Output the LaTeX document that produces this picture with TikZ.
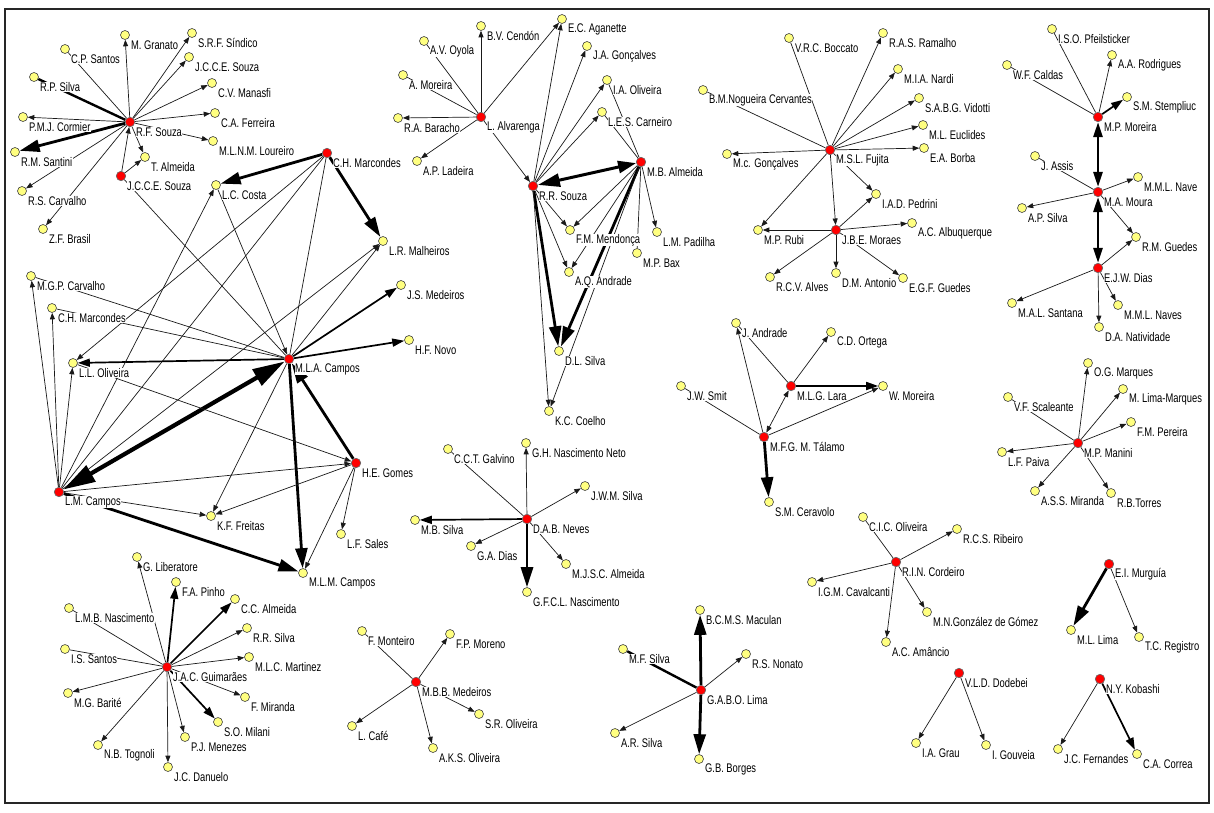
\documentclass[tikz,border=0pt]{standalone}
\usepackage{fontspec}
\setmainfont{Liberation Sans}[FakeStretch=0.75]
\usetikzlibrary{arrows.meta}
\pgfdeclarelayer{bg}
\pgfsetlayers{bg,main}
\newcommand\mkn[5]{\node[#5] (#1) at (#2,#3) {}; \node[lbl] (#1-l) at (#2+5.5,#3+10) {#4};}
\definecolor{ylw}{HTML}{FFFF80}
\definecolor{rd}{HTML}{FF0000}
\tikzset{
  yn/.style={circle,draw=black!75,line width=0.6pt,fill=ylw,minimum size=9pt,inner sep=0pt},
  rn/.style={circle,draw=black!60,line width=0.6pt,fill=rd,minimum size=9.5pt,inner sep=0pt},
  lbl/.style={font=\fontsize{12.5}{13}\selectfont,fill=white,inner sep=0.4pt,anchor=west},
  l1/.style={draw=black!90,line width=0.7pt},
  l3/.style={draw=black,line width=2.4pt},
  a1/.style={l1,-{Triangle[length=6.5pt,width=5pt]}},
  b1/.style={l1,{Triangle[length=6.5pt,width=5pt]}-{Triangle[length=6.5pt,width=5pt]}},
  a2/.style={draw=black,line width=1.7pt,-{Triangle[length=12pt,width=8pt]}},
  a3/.style={draw=black,line width=2.8pt,-{Triangle[length=20pt,width=12pt]}},
  b3/.style={draw=black,line width=2.6pt,{Triangle[length=15pt,width=9pt]}-{Triangle[length=15pt,width=9pt]}},
  b3x/.style={draw=black,line width=3pt,{Triangle[length=22pt,width=13pt]}-{Triangle[length=18pt,width=12pt]}},
  b4/.style={draw=black,line width=4.2pt,{Triangle[length=32pt,width=18pt]}-{Triangle[length=32pt,width=18pt]}},
}
\begin{document}
\begin{tikzpicture}[x=1pt,y=-1pt]
\useasboundingbox (0,0) rectangle (1214,812);
% cluster R.F. Souza
\mkn{rfs}{130}{122}{R.F. Souza}{rn}
\mkn{mgr}{125}{35}{M. Granato}{yn}
\mkn{srf}{192}{33}{S.R.F. Síndico}{yn}
\mkn{jcca}{189}{57}{J.C.C.E. Souza}{yn}
\mkn{cps}{65}{49}{C.P. Santos}{yn}
\mkn{rps}{34}{77}{R.P. Silva}{yn}
\mkn{cvm}{212}{83}{C.V. Manasfi}{yn}
\mkn{pmj}{23}{117}{P.M.J. Cormier}{yn}
\mkn{caf}{215}{113}{C.A. Ferreira}{yn}
\mkn{mln}{213}{141}{M.L.N.M. Loureiro}{yn}
\mkn{rms}{15}{152}{R.M. Santini}{yn}
\mkn{tal}{145}{157}{T. Almeida}{yn}
\mkn{jccb}{121}{176}{J.C.C.E. Souza}{rn}
\mkn{rsc}{22}{191}{R.S. Carvalho}{yn}
\mkn{zfb}{43}{229}{Z.F. Brasil}{yn}
% cluster Alvarenga / R.R. Souza / M.B. Almeida
\mkn{lal}{481}{117}{L. Alvarenga}{rn}
\mkn{bvc}{481}{26}{B.V. Cendón}{yn}
\mkn{avo}{424}{41}{A.V. Oyola}{yn}
\mkn{eca}{562}{19}{E.C. Aganette}{yn}
\mkn{jag}{587}{46}{J.A. Gonçalves}{yn}
\mkn{amo}{403}{75}{A. Moreira}{yn}
\mkn{iao}{607}{80}{I.A. Oliveira}{yn}
\mkn{les}{602}{112}{L.E.S. Carneiro}{yn}
\mkn{rab}{398}{118}{R.A. Baracho}{yn}
\mkn{apl}{417}{161}{A.P. Ladeira}{yn}
\mkn{rrs}{533}{186}{R.R. Souza}{rn}
\mkn{mba}{641}{162}{M.B. Almeida}{rn}
\mkn{fmm}{570}{230}{F.M. Mendonça}{yn}
\mkn{lmp}{657}{232}{L.M. Padilha}{yn}
\mkn{mpb}{637}{253}{M.P. Bax}{yn}
\mkn{aqa}{569}{272}{A.Q. Andrade}{yn}
\mkn{dls}{559}{351}{D.L. Silva}{yn}
\mkn{kcc}{549}{411}{K.C. Coelho}{yn}
% big cluster
\mkn{chm}{327}{153}{C.H. Marcondes}{rn}
\mkn{lcc}{216}{185}{L.C. Costa}{yn}
\mkn{lrm}{383}{241}{L.R. Malheiros}{yn}
\mkn{jsm}{401}{285}{J.S. Medeiros}{yn}
\mkn{hfn}{409}{340}{H.F. Novo}{yn}
\mkn{mla}{289}{359}{M.L.A. Campos}{rn}
\mkn{mgp}{31}{276}{M.G.P. Carvalho}{yn}
\mkn{chy}{52}{308}{C.H. Marcondes}{yn}
\mkn{llo}{73}{363}{L.L. Oliveira}{yn}
\mkn{lmc}{59}{492}{L.M. Campos}{rn}
\mkn{heg}{356}{463}{H.E. Gomes}{rn}
\mkn{kff}{211}{516}{K.F. Freitas}{yn}
\mkn{lfs}{341}{534}{L.F. Sales}{yn}
\mkn{mlm}{303}{573}{M.L.M. Campos}{yn}
% Fujita
\mkn{msl}{830}{150}{M.S.L. Fujita}{rn}
\mkn{vrc}{789}{38}{V.R.C. Boccato}{yn}
\mkn{ras}{883}{33}{R.A.S. Ramalho}{yn}
\mkn{mia}{898}{69}{M.I.A. Nardi}{yn}
\mkn{bmn}{703}{90}{B.M.Nogueira Cervantes}{yn}
\mkn{sab}{919}{98}{S.A.B.G. Vidotti}{yn}
\mkn{mle}{923}{125}{M.L. Euclides}{yn}
\mkn{eab}{924}{148}{E.A. Borba}{yn}
\mkn{mcg}{727}{154}{M.c. Gonçalves}{yn}
\mkn{iad}{876}{194}{I.A.D. Pedrini}{yn}
\mkn{aca}{912}{223}{A.C. Albuquerque}{yn}
\mkn{mpr}{758}{230}{M.P. Rubi}{yn}
\mkn{jbe}{836}{230}{J.B.E. Moraes}{rn}
\mkn{rcv}{770}{277}{R.C.V. Alves}{yn}
\mkn{dma}{836}{273}{D.M. Antonio}{yn}
\mkn{egf}{903}{278}{E.G.F. Guedes}{yn}
% Moreira / Moura / Dias
\mkn{ipf}{1052}{29}{I.S.O. Pfeilsticker}{yn}
\mkn{aar}{1112}{55}{A.A. Rodrigues}{yn}
\mkn{wfc}{1007}{65}{W.F. Caldas}{yn}
\mkn{sms}{1127}{97}{S.M. Stempliuc}{yn}
\mkn{mpm}{1098}{117}{M.P. Moreira}{rn}
\mkn{jas}{1035}{156}{J. Assis}{yn}
\mkn{mmn}{1138}{177}{M.M.L. Nave}{yn}
\mkn{mam}{1098}{192}{M.A. Moura}{rn}
\mkn{aps}{1022}{208}{A.P. Silva}{yn}
\mkn{rmg}{1136}{237}{R.M. Guedes}{yn}
\mkn{ejw}{1098}{268}{E.J.W. Dias}{rn}
\mkn{mal}{1012}{303}{M.A.L. Santana}{yn}
\mkn{mmls}{1118}{305}{M.M.L. Naves}{yn}
\mkn{dan}{1099}{327}{D.A. Natividade}{yn}
% Manini
\mkn{ogm}{1088}{363}{O.G. Marques}{yn}
\mkn{mlima}{1123}{389}{M. Lima-Marques}{yn}
\mkn{vfs}{1008}{397}{V.F. Scaleante}{yn}
\mkn{fmp}{1131}{422}{F.M. Pereira}{yn}
\mkn{mpn}{1078}{443}{M.P. Manini}{rn}
\mkn{lfp}{1002}{452}{L.F. Paiva}{yn}
\mkn{asm}{1035}{491}{A.S.S. Miranda}{yn}
\mkn{rbt}{1111}{493}{R.B.Torres}{yn}
% Talamo
\mkn{jan}{736}{323}{J. Andrade}{yn}
\mkn{cdo}{831}{332}{C.D. Ortega}{yn}
\mkn{mlg}{791}{386}{M.L.G. Lara}{rn}
\mkn{wmo}{883}{386}{W. Moreira}{yn}
\mkn{jws}{681}{386}{J.W. Smit}{yn}
\mkn{mfg}{764}{437}{M.F.G. M. Tálamo}{rn}
\mkn{smc}{769}{502}{S.M. Ceravolo}{yn}
% Neves
\mkn{cct}{448}{449}{C.C.T. Galvino}{yn}
\mkn{ghn}{526}{443}{G.H. Nascimento Neto}{yn}
\mkn{jwm}{585}{486}{J.W.M. Silva}{yn}
\mkn{dab}{527}{519}{D.A.B. Neves}{rn}
\mkn{mbs}{415}{520}{M.B. Silva}{yn}
\mkn{gad}{471}{546}{G.A. Dias}{yn}
\mkn{mjs}{566}{564}{M.J.S.C. Almeida}{yn}
\mkn{gfc}{527}{592}{G.F.C.L. Nascimento}{yn}
% Cordeiro
\mkn{cic}{863}{517}{C.I.C. Oliveira}{yn}
\mkn{rcs}{957}{529}{R.C.S. Ribeiro}{yn}
\mkn{rin}{896}{562}{R.I.N. Cordeiro}{rn}
\mkn{igm}{812}{582}{I.G.M. Cavalcanti}{yn}
\mkn{mng}{927}{612}{M.N.González de Gómez}{yn}
\mkn{acm}{886}{642}{A.C. Amâncio}{yn}
% Murguia, Dodebei, Kobashi
\mkn{emu}{1109}{564}{E.I. Murguía}{rn}
\mkn{mll}{1071}{630}{M.L. Lima}{yn}
\mkn{tcr}{1139}{637}{T.C. Registro}{yn}
\mkn{vld}{959}{673}{V.L.D. Dodebei}{rn}
\mkn{iag}{916}{743}{I.A. Grau}{yn}
\mkn{igo}{986}{745}{I. Gouveia}{yn}
\mkn{nyk}{1100}{679}{N.Y. Kobashi}{rn}
\mkn{jcf}{1058}{749}{J.C. Fernandes}{yn}
\mkn{cac}{1137}{754}{C.A. Correa}{yn}
% Guimaraes
\mkn{gli}{137}{557}{G. Liberatore}{yn}
\mkn{fap}{176}{582}{F.A. Pinho}{yn}
\mkn{cca}{235}{599}{C.C. Almeida}{yn}
\mkn{lmb}{69}{608}{L.M.B. Nascimento}{yn}
\mkn{rrsi}{247}{628}{R.R. Silva}{yn}
\mkn{iss}{65}{649}{I.S. Santos}{yn}
\mkn{mlc}{249}{657}{M.L.C. Martinez}{yn}
\mkn{jac}{167}{667}{J.A.C. Guimarães}{rn}
\mkn{mgb}{68}{693}{M.G. Barité}{yn}
\mkn{fmi}{245}{697}{F. Miranda}{yn}
\mkn{som}{218}{722}{S.O. Milani}{yn}
\mkn{pjm}{185}{737}{P.J. Menezes}{yn}
\mkn{nbt}{98}{745}{N.B. Tognoli}{yn}
\mkn{jcd}{168}{767}{J.C. Danuelo}{yn}
% Medeiros
\mkn{fmo}{362}{631}{F. Monteiro}{yn}
\mkn{fpm}{450}{634}{F.P. Moreno}{yn}
\mkn{mbb}{416}{682}{M.B.B. Medeiros}{rn}
\mkn{sro}{479}{714}{S.R. Oliveira}{yn}
\mkn{lca}{352}{726}{L. Café}{yn}
\mkn{aks}{433}{748}{A.K.S. Oliveira}{yn}
% Lima
\mkn{bcm}{700}{610}{B.C.M.S. Maculan}{yn}
\mkn{mfs}{623}{649}{M.F. Silva}{yn}
\mkn{rsn}{746}{654}{R.S. Nonato}{yn}
\mkn{gab}{701}{690}{G.A.B.O. Lima}{rn}
\mkn{ars}{615}{733}{A.R. Silva}{yn}
\mkn{gbb}{699}{759}{G.B. Borges}{yn}
\begin{pgfonlayer}{bg}
\fill[white] (0,0) rectangle (1214,812);
\draw[line width=2.2pt,black!85] (5,9) rectangle (1209,803);
% R.F. Souza
\draw[a1] (rfs) -- (mgr);
\draw[a1] (rfs) -- (srf);
\draw[a1] (rfs) -- (jcca);
\draw[l1] (cps) -- (rfs);
\draw[l3] (rps) -- (rfs);
\draw[a1] (rfs) -- (cvm);
\draw[a1] (rfs) -- (pmj);
\draw[a1] (rfs) -- (caf);
\draw[a1] (rfs) -- (mln);
\draw[a3] (rfs) -- (rms);
\draw[a1] (rfs) -- (rsc);
\draw[a1] (rfs) -- (zfb);
\draw[a1] (rfs) -- (tal);
\draw[a1] (jccb) -- (rfs);
\draw[a1] (jccb) -- (tal);
\draw[l1] (jccb) -- (mla);
% Alvarenga
\draw[a1] (lal) -- (bvc);
\draw[l1] (avo) -- (lal);
\draw[l1] (amo) -- (lal);
\draw[a1] (lal) -- (rab);
\draw[a1] (lal) -- (apl);
\draw[a1] (lal) -- (eca);
\draw[a1] (lal) -- (rrs);
% R.R. Souza
\draw[a1] (rrs) -- (eca);
\draw[a1] (rrs) -- (jag);
\draw[a1] (rrs) -- (iao);
\draw[a1] (rrs) -- (les);
\draw[b3x] (rrs) -- (mba);
\draw[a1] (rrs) -- (fmm);
\draw[a1] (rrs) -- (aqa);
\draw[a3] (rrs) -- (dls);
\draw[a1] (rrs) -- (kcc);
% M.B. Almeida
\draw[l1] (iao) -- (mba);
\draw[l1] (les) -- (mba);
\draw[a1] (mba) -- (lmp);
\draw[l1] (mba) -- (mpb);
\draw[a1] (mba) -- (fmm);
\draw[a1] (mba) -- (aqa);
\draw[a3] (mba) -- (dls);
\draw[a1] (mba) -- (kcc);
% big cluster
\draw[a3] (chm) -- (lcc);
\draw[a3] (chm) -- (lrm);
\draw[a1] (chm) -- (llo);
\draw[l1] (lmc) -- (chm);
\draw[l1] (chm) -- (mla);
\draw[a1] (lcc) -- (mla);
\draw[a1] (mla) -- (lrm);
\draw[a1] (lmc) -- (lrm);
\draw[a2] (mla) -- (jsm);
\draw[a2] (mla) -- (hfn);
\draw[a3] (heg) -- (mla);
\draw[a3] (mla) -- (mlm);
\draw[a2] (mla) -- (llo);
\draw[a1] (mla) -- (kff);
\draw[b4] (lmc) -- (mla);
\draw[a1] (lmc) -- (mgp);
\draw[a1] (lmc) -- (chy);
\draw[a1] (lmc) -- (llo);
\draw[a1] (lmc) -- (lcc);
\draw[a1] (lmc) -- (heg);
\draw[a1] (lmc) -- (kff);
\draw[a3] (lmc) -- (mlm);
\draw[l1] (mgp) -- (mla);
\draw[l1] (chy) -- (mla);
\draw[a1] (llo) -- (heg);
\draw[a1] (heg) -- (kff);
\draw[a1] (heg) -- (lfs);
\draw[a1] (heg) -- (mlm);
% Fujita
\draw[l1] (vrc) -- (msl);
\draw[a1] (msl) -- (ras);
\draw[a1] (msl) -- (mia);
\draw[a1] (msl) -- (sab);
\draw[a1] (msl) -- (mle);
\draw[a1] (msl) -- (eab);
\draw[l1] (bmn) -- (msl);
\draw[a1] (msl) -- (mcg);
\draw[a1] (msl) -- (iad);
\draw[a1] (msl) -- (mpr);
\draw[a1] (msl) -- (jbe);
\draw[a1] (jbe) -- (iad);
\draw[a1] (jbe) -- (mpr);
\draw[a1] (jbe) -- (aca);
\draw[a1] (jbe) -- (rcv);
\draw[a1] (jbe) -- (dma);
\draw[a1] (jbe) -- (egf);
% Moreira
\draw[l1] (ipf) -- (mpm);
\draw[a1] (mpm) -- (aar);
\draw[l1] (wfc) -- (mpm);
\draw[a2] (mpm) -- (sms);
\draw[b3] (mpm) -- (mam);
\draw[l1] (jas) -- (mam);
\draw[a1] (mam) -- (mmn);
\draw[a1] (mam) -- (aps);
\draw[a1] (mam) -- (rmg);
\draw[b3] (mam) -- (ejw);
\draw[a1] (ejw) -- (rmg);
\draw[a1] (ejw) -- (mal);
\draw[a1] (ejw) -- (mmls);
\draw[a1] (ejw) -- (dan);
% Manini
\draw[a1] (mpn) -- (ogm);
\draw[a1] (mpn) -- (mlima);
\draw[l1] (vfs) -- (mpn);
\draw[a1] (mpn) -- (fmp);
\draw[a1] (mpn) -- (lfp);
\draw[a1] (mpn) -- (asm);
\draw[a1] (mpn) -- (rbt);
% Talamo
\draw[a1] (mfg) -- (jan);
\draw[l1] (jan) -- (mlg);
\draw[a1] (mlg) -- (cdo);
\draw[a2] (mlg) -- (wmo);
\draw[a1] (mfg) -- (wmo);
\draw[b1] (mlg) -- (mfg);
\draw[l1] (jws) -- (mfg);
\draw[a3] (mfg) -- (smc);
% Neves
\draw[a1] (dab) -- (ghn);
\draw[l1] (cct) -- (dab);
\draw[a1] (dab) -- (jwm);
\draw[a2] (dab) -- (mbs);
\draw[a1] (dab) -- (gad);
\draw[a3] (dab) -- (gfc);
\draw[a1] (dab) -- (mjs);
% Cordeiro
\draw[l1] (cic) -- (rin);
\draw[a1] (rin) -- (rcs);
\draw[a1] (rin) -- (igm);
\draw[a1] (rin) -- (acm);
\draw[a1] (rin) -- (mng);
% Murguia, Dodebei, Kobashi
\draw[a3] (emu) -- (mll);
\draw[a1] (emu) -- (tcr);
\draw[a1] (vld) -- (iag);
\draw[a1] (vld) -- (igo);
\draw[a1] (nyk) -- (jcf);
\draw[a2] (nyk) -- (cac);
% Guimaraes
\draw[a1] (jac) -- (gli);
\draw[a2] (jac) -- (fap);
\draw[a2] (jac) -- (cca);
\draw[l1] (lmb) -- (jac);
\draw[a1] (jac) -- (rrsi);
\draw[l1] (iss) -- (jac);
\draw[a1] (jac) -- (mlc);
\draw[a1] (jac) -- (mgb);
\draw[a1] (jac) -- (fmi);
\draw[a2] (jac) -- (som);
\draw[a1] (jac) -- (pjm);
\draw[a1] (jac) -- (nbt);
\draw[a1] (jac) -- (jcd);
% Medeiros
\draw[l1] (fmo) -- (mbb);
\draw[a1] (mbb) -- (fpm);
\draw[a1] (mbb) -- (sro);
\draw[a1] (mbb) -- (lca);
\draw[a1] (mbb) -- (aks);
% Lima
\draw[a3] (gab) -- (bcm);
\draw[l3] (mfs) -- (gab);
\draw[a1] (gab) -- (rsn);
\draw[a1] (gab) -- (ars);
\draw[a3] (gab) -- (gbb);
\end{pgfonlayer}
\end{tikzpicture}
\end{document}
